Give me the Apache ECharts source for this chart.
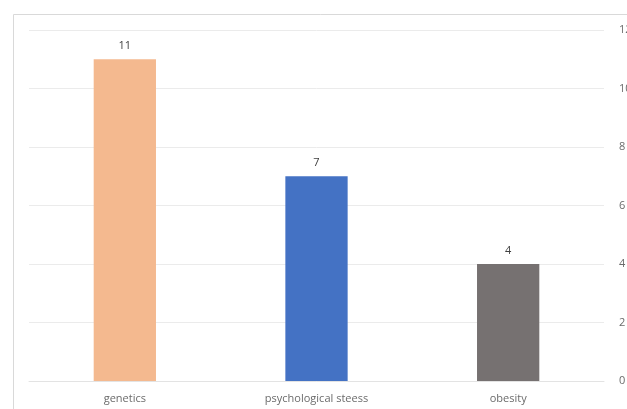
<!DOCTYPE html>
<html>
<head>
<meta charset="utf-8">
<script src="https://cdn.jsdelivr.net/npm/echarts@6/dist/echarts.min.js"></script>
<style>
  html, body { margin: 0; padding: 0; background: #fff; }
  #box { width: 627px; height: 409px; }
</style>
</head>
<body>
<div id="box"></div>
<script>
const categories = ['genetics', 'psychological steess', 'obesity']
const values = [11, 7, 4]
const barColors = ['#F4B98F', '#4472C4', '#767171']

const chart = echarts.init(document.getElementById('box'))
chart.setOption({
  animation: false,
  graphic: [
    {
      type: 'polyline',
      shape: { points: [[13.5, 409], [13.5, 14.5], [627, 14.5]] },
      style: { stroke: '#d9d9d9', lineWidth: 1, fill: null },
      silent: true
    }
  ],
  grid: { left: 29, right: 23, top: 30, bottom: 28, outerBoundsMode: 'none' },
  xAxis: {
    type: 'category',
    data: categories,
    axisLine: { lineStyle: { color: '#e3e3e3' } },
    axisTick: { show: false },
    axisLabel: { color: '#6b6b6b', fontSize: 11, fontFamily: 'Open Sans', margin: 12 }
  },
  yAxis: {
    type: 'value',
    position: 'right',
    min: 0,
    max: 12,
    interval: 2,
    axisLine: { show: false },
    axisTick: { show: false },
    splitLine: { lineStyle: { color: '#ebebeb' } },
    axisLabel: { color: '#6b6b6b', fontSize: 11, fontFamily: 'Open Sans', margin: 15 }
  },
  series: [{
    type: 'bar',
    barWidth: '32.5%',
    data: values.map((v, i) => ({ value: v, itemStyle: { color: barColors[i] } })),
    label: {
      show: true,
      position: 'top',
      distance: 8,
      color: '#404040',
      fontSize: 11,
      fontFamily: 'Open Sans'
    }
  }]
})
</script>
</body>
</html>
